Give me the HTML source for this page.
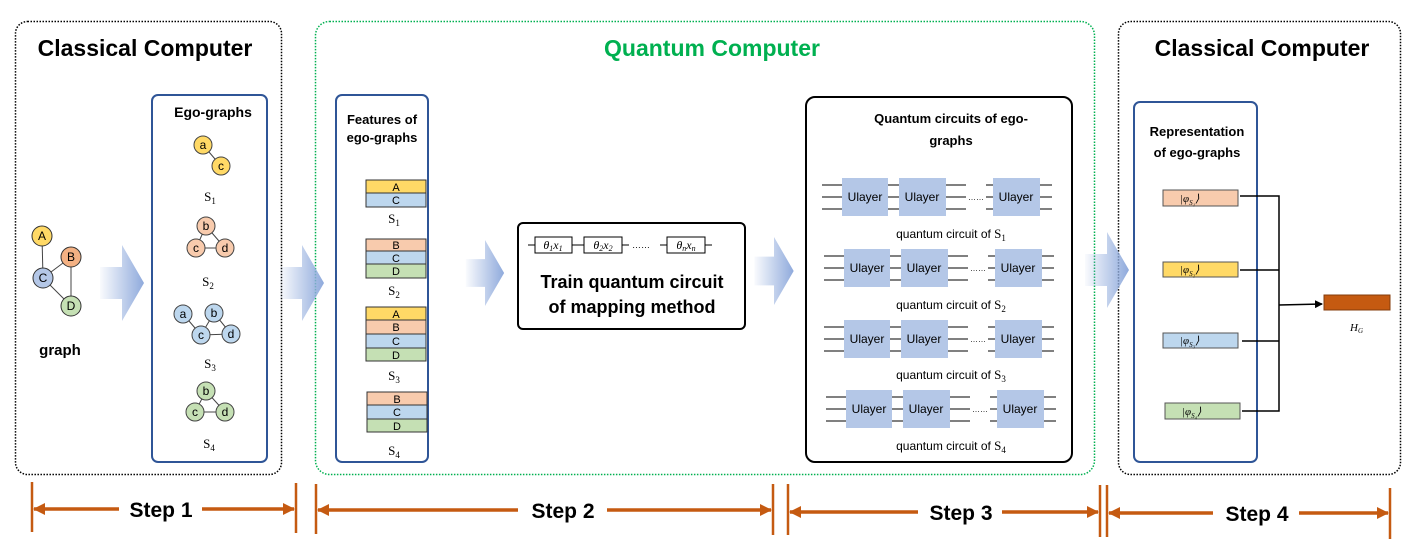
<!DOCTYPE html>
<html><head><meta charset="utf-8"><style>
body{margin:0;background:#fff;}
svg{display:block;font-family:"Liberation Sans",sans-serif;}
.t{font-weight:bold;fill:#000;}
.ser{font-family:"Liberation Serif",serif;}
</style></head><body>
<svg width="1406" height="555" viewBox="0 0 1406 555" xmlns="http://www.w3.org/2000/svg">
<defs>
<linearGradient id="ag" x1="0" x2="1" y1="0" y2="0">
<stop offset="0" stop-color="#8faadc" stop-opacity="0.05"/>
<stop offset="1" stop-color="#8faadc"/>
</linearGradient>
<marker id="ah" markerWidth="8" markerHeight="8" refX="7" refY="4" orient="auto" markerUnits="userSpaceOnUse"><path d="M0,0 L8,4 L0,8 z" fill="#000"/></marker>
<marker id="oh" markerWidth="12" markerHeight="12" refX="11" refY="6" orient="auto" markerUnits="userSpaceOnUse"><path d="M0,0 L12,6 L0,12 z" fill="#c55a11"/></marker>
<symbol id="arr" viewBox="0 0 44 76"><path d="M0,22 L22,22 L22,0 L44,38 L22,76 L22,54 L0,54 z" fill="url(#ag)"/></symbol>
</defs>

<!-- outer boxes -->
<rect x="15.5" y="21.5" width="266" height="453" rx="12" fill="none" stroke="#000" stroke-width="1.5" stroke-dasharray="1.5 1.5"/>
<rect x="315.5" y="21.5" width="779" height="453" rx="14" fill="none" stroke="#00b050" stroke-width="1.5" stroke-dasharray="1.5 1.5"/>
<rect x="1118.5" y="21.5" width="282" height="453" rx="12" fill="none" stroke="#000" stroke-width="1.5" stroke-dasharray="1.5 1.5"/>

<text x="145" y="56" text-anchor="middle" class="t" font-size="23">Classical Computer</text>
<text x="712" y="56" text-anchor="middle" font-weight="bold" fill="#00b050" font-size="23">Quantum Computer</text>
<text x="1262" y="56" text-anchor="middle" class="t" font-size="23">Classical Computer</text>

<!-- big arrows -->
<use href="#arr" x="100" y="245" width="44" height="76"/>
<use href="#arr" x="280" y="245" width="44" height="76"/>
<use href="#arr" x="462" y="240" width="46" height="66"/>
<use href="#arr" x="753" y="237" width="42" height="68"/>
<use href="#arr" x="1085" y="232" width="44" height="76"/>

<!-- graph -->
<g stroke="#444" stroke-width="1">
<line x1="42" y1="236" x2="43" y2="278"/><line x1="43" y1="278" x2="71" y2="257"/><line x1="71" y1="257" x2="71" y2="306"/><line x1="43" y1="278" x2="71" y2="306"/>
</g>
<g stroke="#333" stroke-width="1" font-size="12" text-anchor="middle">
<circle cx="42" cy="236" r="10" fill="#ffd966"/><circle cx="71" cy="257" r="10" fill="#f4b183"/>
<circle cx="43" cy="278" r="10" fill="#b4c7e7"/><circle cx="71" cy="306" r="10" fill="#c5e0b4"/>
</g>
<g font-size="12" text-anchor="middle" fill="#000">
<text x="42" y="240">A</text><text x="71" y="261">B</text><text x="43" y="282">C</text><text x="71" y="310">D</text>
</g>
<text x="60" y="355" text-anchor="middle" class="t" font-size="15">graph</text>

<!-- ego-graphs box -->
<rect x="152" y="95" width="115" height="367" rx="6" fill="none" stroke="#2f5597" stroke-width="2"/>
<text x="213" y="117" text-anchor="middle" class="t" font-size="14">Ego-graphs</text>
<g stroke="#444" stroke-width="1">
<line x1="203" y1="145" x2="221" y2="166"/>
<line x1="206" y1="226" x2="196" y2="248"/><line x1="206" y1="226" x2="225" y2="248"/><line x1="196" y1="248" x2="225" y2="248"/>
<line x1="183" y1="314" x2="201" y2="335"/><line x1="214" y1="313" x2="201" y2="335"/><line x1="214" y1="313" x2="231" y2="334"/><line x1="201" y1="335" x2="231" y2="334"/>
<line x1="206" y1="391" x2="195" y2="412"/><line x1="206" y1="391" x2="225" y2="412"/><line x1="195" y1="412" x2="225" y2="412"/>
</g>
<g stroke="#444" stroke-width="1">
<circle cx="203" cy="145" r="9" fill="#ffd966"/><circle cx="221" cy="166" r="9" fill="#ffd966"/>
<circle cx="206" cy="226" r="9" fill="#f8cbad"/><circle cx="196" cy="248" r="9" fill="#f8cbad"/><circle cx="225" cy="248" r="9" fill="#f8cbad"/>
<circle cx="183" cy="314" r="9" fill="#bdd7ee"/><circle cx="214" cy="313" r="9" fill="#bdd7ee"/><circle cx="201" cy="335" r="9" fill="#bdd7ee"/><circle cx="231" cy="334" r="9" fill="#bdd7ee"/>
<circle cx="206" cy="391" r="9" fill="#c5e0b4"/><circle cx="195" cy="412" r="9" fill="#c5e0b4"/><circle cx="225" cy="412" r="9" fill="#c5e0b4"/>
</g>
<g font-size="12" text-anchor="middle" fill="#000">
<text x="203" y="149">a</text><text x="221" y="170">c</text>
<text x="206" y="230">b</text><text x="196" y="252">c</text><text x="225" y="252">d</text>
<text x="183" y="318">a</text><text x="214" y="317">b</text><text x="201" y="339">c</text><text x="231" y="338">d</text>
<text x="206" y="395">b</text><text x="195" y="416">c</text><text x="225" y="416">d</text>
</g>
<g class="ser" font-size="13" text-anchor="middle">
<text x="210" y="201">S<tspan font-size="9" dy="3">1</tspan></text>
<text x="208" y="286">S<tspan font-size="9" dy="3">2</tspan></text>
<text x="210" y="368">S<tspan font-size="9" dy="3">3</tspan></text>
<text x="209" y="448">S<tspan font-size="9" dy="3">4</tspan></text>
</g>

<!-- features -->
<rect x="336" y="95" width="92" height="367" rx="6" fill="none" stroke="#2f5597" stroke-width="2"/>
<text x="382" y="124" text-anchor="middle" class="t" font-size="13">Features of</text>
<text x="382" y="142" text-anchor="middle" class="t" font-size="13">ego-graphs</text>
<g stroke="#333" stroke-width="1">
<rect x="366" y="180" width="60" height="13" fill="#ffd966"/><rect x="366" y="193" width="60" height="14" fill="#bdd7ee"/>
<rect x="366" y="239" width="60" height="12" fill="#f8cbad"/><rect x="366" y="251" width="60" height="13" fill="#bdd7ee"/><rect x="366" y="264" width="60" height="14" fill="#c5e0b4"/>
<rect x="366" y="307" width="60" height="13" fill="#ffd966"/><rect x="366" y="320" width="60" height="14" fill="#f8cbad"/><rect x="366" y="334" width="60" height="14" fill="#bdd7ee"/><rect x="366" y="348" width="60" height="13" fill="#c5e0b4"/>
<rect x="367" y="392" width="60" height="13" fill="#f8cbad"/><rect x="367" y="405" width="60" height="14" fill="#bdd7ee"/><rect x="367" y="419" width="60" height="13" fill="#c5e0b4"/>
</g>
<g font-size="11" text-anchor="middle" fill="#000">
<text x="396" y="191">A</text><text x="396" y="204">C</text>
<text x="396" y="249">B</text><text x="396" y="262">C</text><text x="396" y="275">D</text>
<text x="396" y="318">A</text><text x="396" y="331">B</text><text x="396" y="345">C</text><text x="396" y="359">D</text>
<text x="397" y="403">B</text><text x="397" y="416">C</text><text x="397" y="430">D</text>
</g>
<g class="ser" font-size="13" text-anchor="middle">
<text x="394" y="223">S<tspan font-size="9" dy="3">1</tspan></text>
<text x="394" y="295">S<tspan font-size="9" dy="3">2</tspan></text>
<text x="394" y="380">S<tspan font-size="9" dy="3">3</tspan></text>
<text x="394" y="455">S<tspan font-size="9" dy="3">4</tspan></text>
</g>

<!-- train box -->
<rect x="518" y="223" width="227" height="106" rx="5" fill="none" stroke="#000" stroke-width="2"/>
<g stroke="#000" stroke-width="1">
<line x1="528" y1="245" x2="535" y2="245"/><line x1="572" y1="245" x2="584" y2="245"/><line x1="622" y1="245" x2="629" y2="245"/>
<line x1="660" y1="245" x2="667" y2="245"/><line x1="705" y1="245" x2="712" y2="245"/>
<rect x="535" y="237" width="37" height="16" fill="#fff"/><rect x="584" y="237" width="38" height="16" fill="#fff"/><rect x="667" y="237" width="38" height="16" fill="#fff"/>
</g>
<text x="641" y="248" font-size="9" text-anchor="middle">……</text>
<g class="ser" font-style="italic" font-size="12" text-anchor="middle">
<text x="553" y="249">θ<tspan font-size="8" dy="2">1</tspan><tspan dy="-2">x</tspan><tspan font-size="8" dy="2">1</tspan></text>
<text x="603" y="249">θ<tspan font-size="8" dy="2">2</tspan><tspan dy="-2">x</tspan><tspan font-size="8" dy="2">2</tspan></text>
<text x="686" y="249">θ<tspan font-size="8" dy="2">n</tspan><tspan dy="-2">x</tspan><tspan font-size="8" dy="2">n</tspan></text>
</g>
<text x="632" y="288" text-anchor="middle" class="t" font-size="18">Train quantum circuit</text>
<text x="632" y="313" text-anchor="middle" class="t" font-size="18">of mapping method</text>

<!-- quantum circuits box -->
<rect x="806" y="97" width="266" height="365" rx="9" fill="none" stroke="#000" stroke-width="2"/>
<text x="951" y="123" text-anchor="middle" class="t" font-size="13">Quantum circuits of ego-</text>
<text x="951" y="145" text-anchor="middle" class="t" font-size="13">graphs</text>

<g id="row1" transform="translate(0,197)">
<g stroke="#000" stroke-width="1">
<path d="M822,-12H843M822,0H843M822,12H843 M887,-12H900M887,0H900M887,12H900 M945,-12H966M945,0H966M945,12H966 M986,-12H993M986,0H993M986,12H993 M1039,-12H1052M1039,0H1052M1039,12H1052"/>
</g>
<rect x="842" y="-19" width="46" height="38" fill="#b4c7e7"/>
<rect x="899" y="-19" width="47" height="38" fill="#b4c7e7"/>
<rect x="993" y="-19" width="47" height="38" fill="#b4c7e7"/>
<g font-size="12" text-anchor="middle"><text x="865" y="4">Ulayer</text><text x="922" y="4">Ulayer</text><text x="1016" y="4">Ulayer</text></g>
<text x="976" y="3" font-size="8" text-anchor="middle">……</text>
</g>
<use href="#row1" x="2" y="71"/>
<use href="#row1" x="2" y="142"/>
<use href="#row1" x="4" y="212"/>
<g font-size="12" text-anchor="middle">
<text x="951" y="238">quantum circuit of <tspan class="ser" font-size="13">S</tspan><tspan class="ser" font-size="9" dy="3">1</tspan></text>
<text x="951" y="309">quantum circuit of <tspan class="ser" font-size="13">S</tspan><tspan class="ser" font-size="9" dy="3">2</tspan></text>
<text x="951" y="379">quantum circuit of  <tspan class="ser" font-size="13">S</tspan><tspan class="ser" font-size="9" dy="3">3</tspan></text>
<text x="951" y="450">quantum circuit of  <tspan class="ser" font-size="13">S</tspan><tspan class="ser" font-size="9" dy="3">4</tspan></text>
</g>

<!-- representation -->
<rect x="1134" y="102" width="123" height="360" rx="6" fill="none" stroke="#2f5597" stroke-width="2"/>
<text x="1197" y="136" text-anchor="middle" class="t" font-size="13">Representation</text>
<text x="1197" y="157" text-anchor="middle" class="t" font-size="13">of ego-graphs</text>
<g stroke="#555" stroke-width="1">
<rect x="1163" y="190" width="75" height="16" fill="#f8cbad"/>
<rect x="1163" y="262" width="75" height="15" fill="#ffd966"/>
<rect x="1163" y="333" width="75" height="15" fill="#bdd7ee"/>
<rect x="1165" y="403" width="75" height="16" fill="#c5e0b4"/>
</g>
<g class="ser" font-style="italic" font-size="11">
<text x="1180" y="202">|φ<tspan font-size="7" dy="3">S₁</tspan><tspan dy="-3">⟩</tspan></text>
<text x="1180" y="273">|φ<tspan font-size="7" dy="3">S₂</tspan><tspan dy="-3">⟩</tspan></text>
<text x="1180" y="344">|φ<tspan font-size="7" dy="3">S₃</tspan><tspan dy="-3">⟩</tspan></text>
<text x="1182" y="415">|φ<tspan font-size="7" dy="3">S₄</tspan><tspan dy="-3">⟩</tspan></text>
</g>
<g stroke="#000" stroke-width="1.5" fill="none">
<path d="M1240,196H1279V411H1242 M1240,270H1279 M1242,341H1279"/>
<line x1="1279" y1="305" x2="1322" y2="304" marker-end="url(#ah)"/>
</g>
<rect x="1324" y="295" width="66" height="15" fill="#c55a11" stroke="#843c0c" stroke-width="1"/>
<text x="1350" y="331" class="ser" font-style="italic" font-size="11">H<tspan font-size="7" dy="2">G</tspan></text>

<!-- steps -->
<g stroke="#c55a11" stroke-width="2.5">
<line x1="32" y1="482" x2="32" y2="532"/><line x1="296" y1="483" x2="296" y2="533"/>
<line x1="316" y1="484" x2="316" y2="534"/><line x1="773" y1="484" x2="773" y2="535"/>
<line x1="788" y1="484" x2="788" y2="535"/><line x1="1100" y1="485" x2="1100" y2="537"/>
<line x1="1107" y1="485" x2="1107" y2="537"/><line x1="1390" y1="488" x2="1390" y2="539"/>
</g>
<g stroke="#c55a11" stroke-width="3.5" fill="none">
<line x1="119" y1="509" x2="34" y2="509" marker-end="url(#oh)"/>
<line x1="202" y1="509" x2="294" y2="509" marker-end="url(#oh)"/>
<line x1="518" y1="510" x2="318" y2="510" marker-end="url(#oh)"/>
<line x1="607" y1="510" x2="771" y2="510" marker-end="url(#oh)"/>
<line x1="918" y1="512" x2="790" y2="512" marker-end="url(#oh)"/>
<line x1="1002" y1="512" x2="1098" y2="512" marker-end="url(#oh)"/>
<line x1="1213" y1="513" x2="1109" y2="513" marker-end="url(#oh)"/>
<line x1="1299" y1="513" x2="1388" y2="513" marker-end="url(#oh)"/>
</g>
<g class="t" font-size="21" text-anchor="middle">
<text x="161" y="517">Step 1</text>
<text x="563" y="518">Step 2</text>
<text x="961" y="520">Step 3</text>
<text x="1257" y="521">Step 4</text>
</g>
</svg>
</body></html>
